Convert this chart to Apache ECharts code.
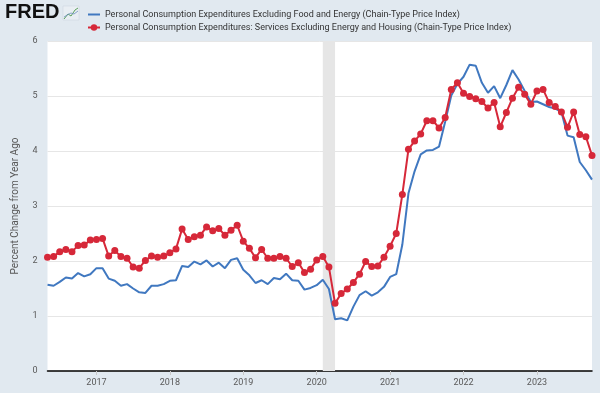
<!DOCTYPE html>
<html>
<head>
<meta charset="utf-8">
<script src="https://cdn.jsdelivr.net/npm/echarts@6/dist/echarts.min.js"></script>
<style>
html,body{margin:0;padding:0;background:#e1e9f0;}
#chart{width:600px;height:393px;}
</style>
</head>
<body>
<div id="chart"></div>
<script>
// Monthly categories 2016-05 .. 2023-10
var startYear = 2016, startMonth = 5, monthCount = 90;
var months = [];
for (var k = 0; k < monthCount; k++) {
  var m = startMonth - 1 + k;
  var y = startYear + Math.floor(m / 12);
  var mm = (m % 12) + 1;
  months.push(y + '-' + (mm < 10 ? '0' + mm : mm));
}
var yearTicks = ['2017','2018','2019','2020','2021','2022','2023'];
var yTicks = [0,1,2,3,4,5,6];

var seriesNames = [
  'Personal Consumption Expenditures Excluding Food and Energy (Chain-Type Price Index)',
  'Personal Consumption Expenditures: Services Excluding Energy and Housing (Chain-Type Price Index)'
];

var coreValues = [
  1.57,1.55,1.62,1.70,1.68,1.78,1.72,1.76,1.87,1.87,
  1.68,1.64,1.55,1.58,1.50,1.43,1.42,1.55,1.55,1.58,
  1.64,1.65,1.91,1.89,1.99,1.94,2.01,1.90,1.97,1.87,
  2.02,2.05,1.84,1.74,1.60,1.65,1.58,1.69,1.67,1.77,
  1.65,1.64,1.48,1.51,1.56,1.66,1.49,0.94,0.96,0.92,
  1.17,1.38,1.45,1.37,1.43,1.53,1.71,1.76,2.30,3.23,
  3.63,3.94,4.01,4.02,4.08,4.53,5.01,5.22,5.35,5.57,
  5.55,5.24,5.06,5.18,4.96,5.20,5.47,5.30,5.09,4.89,
  4.90,4.85,4.80,4.77,4.71,4.28,4.25,3.80,3.65,3.48
];

var servicesValues = [
  2.07,2.08,2.17,2.21,2.17,2.28,2.29,2.38,2.39,2.41,
  2.09,2.19,2.08,2.05,1.89,1.87,2.01,2.09,2.07,2.09,
  2.15,2.22,2.58,2.39,2.44,2.47,2.62,2.55,2.59,2.47,
  2.56,2.65,2.36,2.23,2.06,2.21,2.05,2.05,2.08,2.05,
  1.90,1.97,1.79,1.85,2.02,2.08,1.89,1.23,1.41,1.49,
  1.61,1.76,1.99,1.90,1.91,2.07,2.27,2.50,3.21,4.03,
  4.18,4.31,4.55,4.55,4.42,4.61,5.12,5.24,5.05,4.99,
  4.95,4.90,4.78,4.88,4.44,4.70,4.96,5.16,5.03,4.85,
  5.09,5.12,4.88,4.81,4.71,4.43,4.71,4.30,4.26,3.92
];

var recession = ['2020-02','2020-04'];

var chart = echarts.init(document.getElementById('chart'), null, {renderer:'canvas'});
var isJan = function (idx, val) { return /-01$/.test(val) && yearTicks.indexOf(val.slice(0,4)) >= 0; };

chart.setOption({
  backgroundColor: '#e1e9f0',
  animation: false,
  textStyle: {fontFamily: "Roboto, sans-serif"},
  graphic: [
    {type:'text', left: 5, top: 2, style:{text:'FRED', font:'bold 20px "Liberation Sans", Arial, sans-serif', fill:'#111'}},
    {type:'rect', shape:{x:63, y:6, width:16, height:14}, style:{fill:'#e9eef3', stroke:'#c9d3dc', lineWidth:0.5}},
    {type:'polyline', shape:{points:[[64,19],[68,14],[71,16],[75,10],[78,8]]}, style:{stroke:'#5aa05a', lineWidth:1, fill:null}},
    {type:'polyline', shape:{points:[[64,17],[67,15],[71,13],[74,14],[78,11]]}, style:{stroke:'#6d8fbf', lineWidth:0.8, fill:null}}
  ],
  legend: {
    orient: 'vertical',
    left: 82,
    top: 5,
    itemGap: 4,
    itemWidth: 12,
    itemHeight: 8,
    textStyle: {fontSize: 9, color: '#333', fontFamily: "Roboto, sans-serif"},
    data: [
      {name: seriesNames[0], icon: 'path://M0,0 L12,0 L12,2 L0,2 Z'},
      {name: seriesNames[1]}
    ]
  },
  grid: {left: 47.5, right: 8, top: 41, bottom: 22, show: true, backgroundColor: '#ffffff', borderWidth: 0},
  xAxis: {
    type: 'category',
    data: months,
    boundaryGap: false,
    axisLine: {show: true, lineStyle: {color: '#000', width: 1.5}},
    axisTick: {show: true, interval: isJan, length: 4, lineStyle: {color: '#c8c8c8'}},
    axisLabel: {interval: isJan, formatter: function (v) { return v.slice(0,4); }, color: '#595959', fontSize: 9, margin: 7},
    splitLine: {show: false}
  },
  yAxis: {
    type: 'value',
    min: yTicks[0],
    max: yTicks[yTicks.length-1],
    interval: 1,
    name: 'Percent Change from Year Ago',
    nameLocation: 'middle',
    nameGap: 27,
    nameTextStyle: {color: '#595959', fontSize: 10},
    axisLine: {show: false},
    axisTick: {show: false},
    axisLabel: {color: '#595959', fontSize: 9, margin: 10},
    splitLine: {lineStyle: {color: '#e6e6e6', width: 1}}
  },
  series: [
    {
      name: seriesNames[0],
      type: 'line',
      data: coreValues,
      showSymbol: false,
      symbol: 'none',
      lineStyle: {color: '#4078c0', width: 2},
      itemStyle: {color: '#4078c0'},
      markArea: {
        silent: true,
        itemStyle: {color: '#e6e6e6'},
        data: [[{xAxis: recession[0]}, {xAxis: recession[1]}]]
      },
      z: 2
    },
    {
      name: seriesNames[1],
      type: 'line',
      data: servicesValues,
      symbol: 'circle',
      symbolSize: 7,
      showSymbol: true,
      showAllSymbol: true,
      lineStyle: {color: '#d62839', width: 2},
      itemStyle: {color: '#d62839'},
      z: 3
    }
  ]
});
</script>
</body>
</html>
